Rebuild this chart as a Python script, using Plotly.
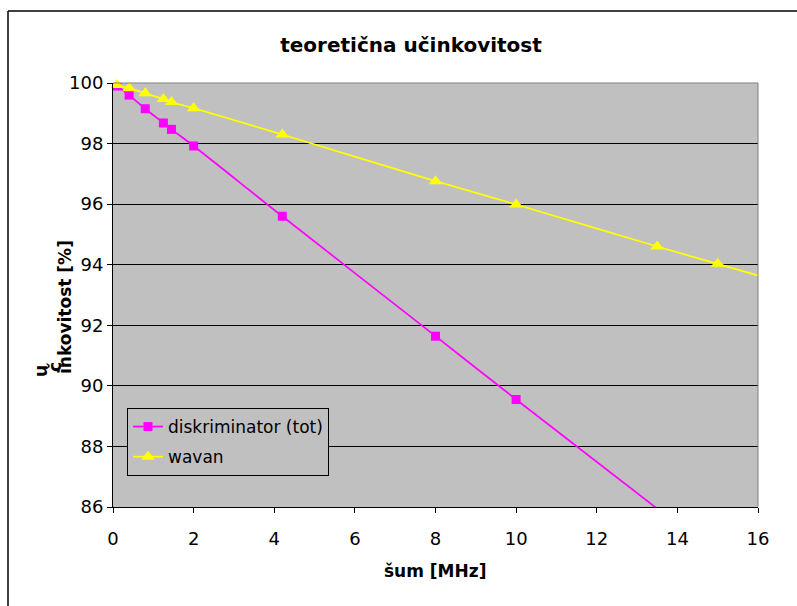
import plotly.graph_objects as go

# Noise rate [MHz] and efficiency [%] for both methods
disc_noise = [0.1, 0.4, 0.8, 1.25, 1.45, 2.0, 4.2, 8.0, 10.0, 15.0]
disc_eff = [99.9, 99.6, 99.15, 98.68, 98.47, 97.92, 95.6, 91.64, 89.55, 84.4]

wavan_noise = [0.1, 0.4, 0.8, 1.25, 1.45, 2.0, 4.2, 8.0, 10.0, 13.5, 15.0, 20.0]
wavan_eff = [99.93, 99.83, 99.66, 99.47, 99.37, 99.17, 98.3, 96.76, 95.99, 94.6, 94.03, 92.1]

x_ticks = [0, 2, 4, 6, 8, 10, 12, 14, 16]
y_ticks = [86, 88, 90, 92, 94, 96, 98, 100]

W, H = 797, 606
L, R, T, B = 113, 39, 83, 99
PW, PH = W - L - R, H - T - B


def px(xp):
    return (xp - L) / PW


def py(yp):
    return (H - B - yp) / PH


FONT = "DejaVu Sans"

fig = go.Figure()
fig.add_trace(go.Scatter(
    x=disc_noise, y=disc_eff, name="diskriminator (tot)", legendgroup="a",
    mode="lines+markers",
    line=dict(color="#FF00FF", width=1.7, shape="spline", smoothing=1),
    marker=dict(symbol="square", size=9, color="#FF00FF"),
))
fig.add_trace(go.Scatter(
    x=wavan_noise, y=wavan_eff, name="wavan", legendgroup="b",
    mode="lines+markers", cliponaxis=False,
    line=dict(color="#FFFF00", width=1.7, shape="spline", smoothing=1),
    marker=dict(symbol="triangle-up", size=12, color="#FFFF00"),
))

axis_font = dict(family=FONT, size=18, color="black")
fig.update_xaxes(
    range=[0, 16], tickvals=x_ticks, ticktext=[str(v) for v in x_ticks],
    showgrid=False, zeroline=False, showline=True, linecolor="black", linewidth=1,
    ticks="outside", ticklen=5, tickcolor="black", tickfont=axis_font,
    ticklabelstandoff=10,
)
fig.update_yaxes(
    range=[86, 100], tickvals=y_ticks, ticktext=[str(v) for v in y_ticks],
    showgrid=True, gridcolor="black", gridwidth=1, zeroline=False,
    showline=True, linecolor="black", linewidth=1,
    ticks="outside", ticklen=5, tickcolor="black", tickfont=axis_font,
)

shapes = [
    # plot area border (top / right)
    dict(type="line", xref="x domain", yref="y domain", x0=0, x1=1, y0=1, y1=1,
         line=dict(color="#808080", width=1), layer="above"),
    dict(type="line", xref="x domain", yref="y domain", x0=1, x1=1, y0=0, y1=1,
         line=dict(color="#808080", width=1), layer="above"),
    # chart area frame
    dict(type="line", xref="paper", yref="paper", x0=px(8), x1=px(W + 20),
         y0=py(11), y1=py(11), line=dict(color="black", width=1.5)),
    dict(type="line", xref="paper", yref="paper", x0=px(8), x1=px(8),
         y0=py(11), y1=py(H + 20), line=dict(color="black", width=1.5)),
]

ytitle_font = dict(family=FONT, size=17, color="black")
annotations = [
    dict(text="<b>šum [MHz]</b>", xref="paper", yref="paper", x=px(435), y=py(571),
         showarrow=False, font=ytitle_font, xanchor="center", yanchor="middle"),
    dict(text="<b>u</b>", xref="paper", yref="paper", x=px(41), y=py(371),
         textangle=-90, showarrow=False, font=ytitle_font, xanchor="center", yanchor="middle"),
    dict(text="<b>č</b>", xref="paper", yref="paper", x=px(55), y=py(367),
         textangle=-90, showarrow=False, font=ytitle_font, xanchor="center", yanchor="middle"),
    dict(text="<b>inkovitost [%]</b>", xref="paper", yref="paper", x=px(65), y=py(307),
         textangle=-90, showarrow=False, font=ytitle_font, xanchor="center", yanchor="middle"),
]

fig.update_layout(
    width=W, height=H,
    margin=dict(l=L, r=R, t=T, b=B, autoexpand=False),
    paper_bgcolor="white", plot_bgcolor="#C0C0C0",
    title=dict(text="<b>teoretična učinkovitost</b>", xref="container", yref="container",
               x=411 / W, y=1 - 45 / H, xanchor="center", yanchor="middle",
               font=dict(family=FONT, size=20, color="black")),
    legend=dict(x=px(127), y=py(408), xanchor="left", yanchor="top",
                bgcolor="#C0C0C0", bordercolor="black", borderwidth=1,
                font=dict(family=FONT, size=17, color="black"),
                traceorder="grouped", tracegroupgap=5),
    shapes=shapes, annotations=annotations,
)

fig.write_html("out.html")
